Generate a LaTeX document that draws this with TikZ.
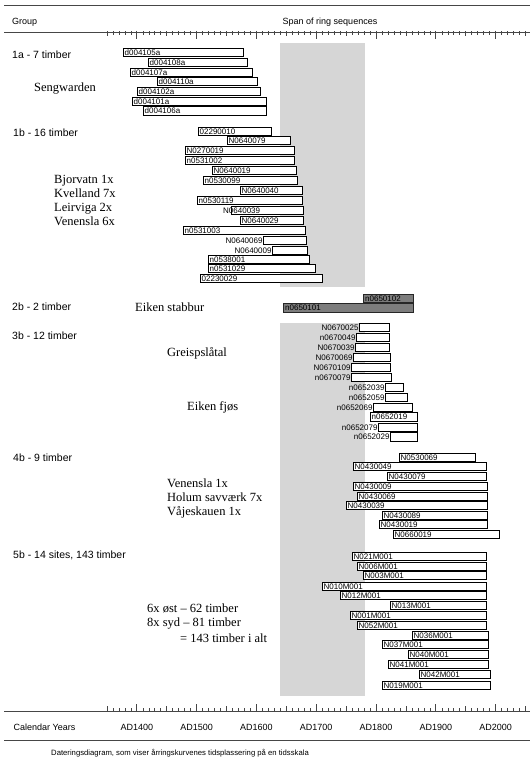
\documentclass[tikz,border=0pt]{standalone}
\usepackage{fontspec}
\setmainfont{Liberation Sans}
\newfontfamily\serifface{Liberation Serif}
\definecolor{band}{RGB}{214,214,214}
\definecolor{darkbar}{RGB}{125,125,125}
\definecolor{rulecol}{RGB}{70,70,70}
\tikzset{
  barbox/.style={draw=black, line width=0.5pt, fill=white, inner sep=0pt, outer sep=0pt, anchor=north west, minimum height=8.5pt},
  darkbox/.style={barbox, fill=darkbar, draw=black!85},
  barlab/.style={font=\fontsize{8}{8}\selectfont, inner sep=0pt},
  grouplab/.style={anchor=west, inner sep=0pt, font=\fontsize{10.5}{12}\selectfont},
  sitelab/.style={anchor=west, inner sep=0pt, align=left, font=\serifface\fontsize{12.5}{14}\selectfont},
  headlab/.style={inner sep=0pt, font=\fontsize{9}{10}\selectfont},
  axlab/.style={inner sep=0pt, font=\fontsize{9}{10}\selectfont},
  rulestyle/.style={draw=rulecol, line width=0.8pt},
  tickstyle/.style={draw=rulecol, line width=0.5pt},
}
% bar with label inside at left
\newcommand\tlbar[5]{%
  \node[barbox, minimum width={#3pt-#2pt}] (#1) at (#2,#4) {};
  \node[barlab, anchor=base west] (#1t) at (#2+1.5,#4+7.1) {#5};
}
% bar with label right-aligned against the bar's left end
\newcommand\tlbarout[5]{%
  \node[barbox, minimum width={#3pt-#2pt}] (#1) at (#2,#4) {};
  \node[barlab, anchor=base east] (#1t) at (#2-0.3,#4+7.1) {#5};
}
% bar with label starting at a given x
\newcommand\tlbarat[6]{%
  \node[barbox, minimum width={#3pt-#2pt}] (#1) at (#2,#4) {};
  \node[barlab, anchor=base west] (#1t) at (#6,#4+7.1) {#5};
}
% dark bar
\newcommand\tldark[5]{%
  \node[darkbox, minimum width={#3pt-#2pt}] (#1) at (#2,#4) {};
  \node[barlab, anchor=base west] (#1t) at (#2+2,#4+7.1) {#5};
}
\begin{document}
\begin{tikzpicture}[x=1pt,y=-1pt]
\fill[white] (0,0) rectangle (530,761);
\useasboundingbox (0,0) rectangle (530,761);
% shaded band
\fill[band] (280,43) rectangle (365,287);
\fill[band] (280,323) rectangle (365,695.5);
% header
\draw[rulestyle] (4,5) -- (530,5);
\node[headlab, anchor=west] (hgroup) at (12,22) {Group};
\node[headlab] (hspan) at (330,22) {Span of ring sequences};
\draw[rulestyle] (4,32) -- (530,32);
\foreach \k in {-5,...,65}{
  \pgfmathsetmacro\xx{136.8+5.98*\k}
  \pgfmathtruncatemacro\mm{mod(\k+100,10)}
  \pgfmathtruncatemacro\ff{mod(\k+100,5)}
  \ifnum\mm=0
    \draw[tickstyle, line width=0.9pt] (\xx,30.5) -- (\xx,38.5);
    \draw[tickstyle, line width=0.9pt] (\xx,711) -- (\xx,703.5);
  \else\ifnum\ff=0
    \draw[tickstyle] (\xx,31) -- (\xx,36);
    \draw[tickstyle] (\xx,711) -- (\xx,706);
  \else
    \draw[tickstyle] (\xx,31) -- (\xx,34.5);
    \draw[tickstyle] (\xx,711) -- (\xx,707.5);
  \fi\fi
}
% group 1a
\node[grouplab] (g1a) at (12,55) {1a - 7 timber};
\node[sitelab] (s1a) at (34,89) {Sengwarden};
\tlbar{a1}{123}{243}{48}{d004105a}
\tlbar{a2}{148}{247}{58}{d004108a}
\tlbar{a3}{130}{252}{68}{d004107a}
\tlbar{a4}{157}{257}{77}{d004110a}
\tlbar{a5}{137}{260}{87}{d004102a}
\tlbar{a6}{132}{266}{97}{d004101a}
\tlbar{a7}{143}{266}{106.5}{d004106a}
% group 1b
\node[grouplab] (g1b) at (13,133) {1b - 16 timber};
\node[sitelab] (s1b) at (54,200) {Bjorvatn 1x\\Kvelland 7x\\Leirviga 2x\\Venensla 6x};
\tlbar{b1}{198}{271}{127}{02290010}
\tlbar{b2}{227}{290}{136}{N0640079}
\tlbar{b3}{185}{294}{146}{N0270019}
\tlbar{b4}{185}{294}{156}{n0531002}
\tlbar{b5}{212}{296}{166}{N0640019}
\tlbar{b6}{203}{297}{176}{n0530099}
\tlbar{b7}{240}{302}{186}{N0640040}
\tlbar{b8}{197}{302}{196}{n0530119}
\tlbarat{b9}{231}{303}{206}{N0640039}{223}
\tlbar{b10}{240}{303}{216}{N0640029}
\tlbar{b11}{183}{305}{226}{n0531003}
\tlbarout{b12}{263}{306}{236}{N0640069}
\tlbarout{b13}{272}{307}{246}{N0640009}
\tlbar{b14}{208}{309}{255}{n0538001}
\tlbar{b15}{208}{315}{264}{n0531029}
\tlbar{b16}{200}{322}{274}{02230029}
% group 2b
\node[grouplab] (g2b) at (12,307) {2b - 2 timber};
\node[sitelab] (s2b) at (135,307) {Eiken stabbur};
\tldark{c1}{363}{413}{294}{n0650102}
\tldark{c2}{283}{413}{303.5}{n0650101}
% group 3b
\node[grouplab] (g3b) at (12,336) {3b - 12 timber};
\node[sitelab] (s3b) at (167,353) {Greispslåtal};
\node[sitelab] (s3c) at (187,407) {Eiken fjøs};
\tlbarout{d1}{359}{389}{323}{N0670025}
\tlbarout{d2}{356}{389}{333}{n0670049}
\tlbarout{d3}{355}{389}{343}{N0670039}
\tlbarout{d4}{353}{390}{353}{N0670069}
\tlbarout{d5}{351}{390}{363}{N0670109}
\tlbarout{d6}{351}{391}{373}{n0670079}
\tlbarout{d7}{385}{403}{383}{n0652039}
\tlbarout{d8}{385}{407}{393}{n0652059}
\tlbarout{d9}{373}{412}{403}{n0652069}
\tlbar{d10}{370}{417}{412.5}{n0652019}
\tlbarout{d11}{378}{417}{423}{n0652079}
\tlbarout{d12}{390}{417}{432.5}{n0652029}
% group 4b
\node[grouplab] (g4b) at (13,458) {4b - 9 timber};
\node[sitelab] (s4b) at (167,498.5) {Venensla 1x\\Holum savværk 7x\\Våjeskauen 1x};
\tlbar{e1}{399}{475}{453}{N0530069}
\tlbar{e2}{353}{486}{462}{N0430049}
\tlbar{e3}{387}{486}{472}{N0430079}
\tlbar{e4}{353}{487}{482}{N0430009}
\tlbar{e5}{357}{487}{492}{N0430069}
\tlbar{e6}{346}{487}{501}{N0430039}
\tlbar{e7}{382}{487}{511}{N0430089}
\tlbar{e8}{379}{487}{520}{N0430019}
\tlbar{e9}{393}{499}{530}{N0660019}
% group 5b
\node[grouplab] (g5b) at (13,555) {5b - 14 sites, 143 timber};
\node[sitelab] (s5b) at (147,616.5) {6x øst – 62 timber\\8x syd – 81 timber};
\node[sitelab] (s5c) at (180,638) {= 143 timber i alt};
\tlbar{f1}{352}{486}{552}{N021M001}
\tlbar{f2}{357}{486}{562}{N006M001}
\tlbar{f3}{363}{486}{571}{N003M001}
\tlbar{f4}{322}{486}{582}{N010M001}
\tlbar{f5}{340}{486}{591}{N012M001}
\tlbar{f6}{390}{486}{601}{N013M001}
\tlbar{f7}{350}{486}{611}{N001M001}
\tlbar{f8}{357}{486}{621}{N052M001}
\tlbar{f9}{412}{488}{631}{N036M001}
\tlbar{f10}{382}{488}{640}{N037M001}
\tlbar{f11}{408}{488}{650}{N040M001}
\tlbar{f12}{388}{488}{660}{N041M001}
\tlbar{f13}{419}{490}{670}{N042M001}
\tlbar{f14}{382}{490}{681}{N019M001}
% bottom axis
\draw[rulestyle] (4,711) -- (530,711);
\node[axlab, anchor=west] (calyears) at (13.5,727) {Calendar Years};
\foreach \c in {0,...,6}{
  \pgfmathsetmacro\xx{136.8+59.8*\c}
  \pgfmathtruncatemacro\yr{1400+100*\c}
  \node[axlab] (ad\c) at (\xx,727) {AD\yr};
}
\draw[rulestyle] (4,740) -- (530,740);
\node[inner sep=0pt, anchor=west, font=\fontsize{7.7}{9}\selectfont] (caption) at (51,753.5) {Dateringsdiagram, som viser årringskurvenes tidsplassering på en tidsskala};
\end{tikzpicture}
\end{document}
